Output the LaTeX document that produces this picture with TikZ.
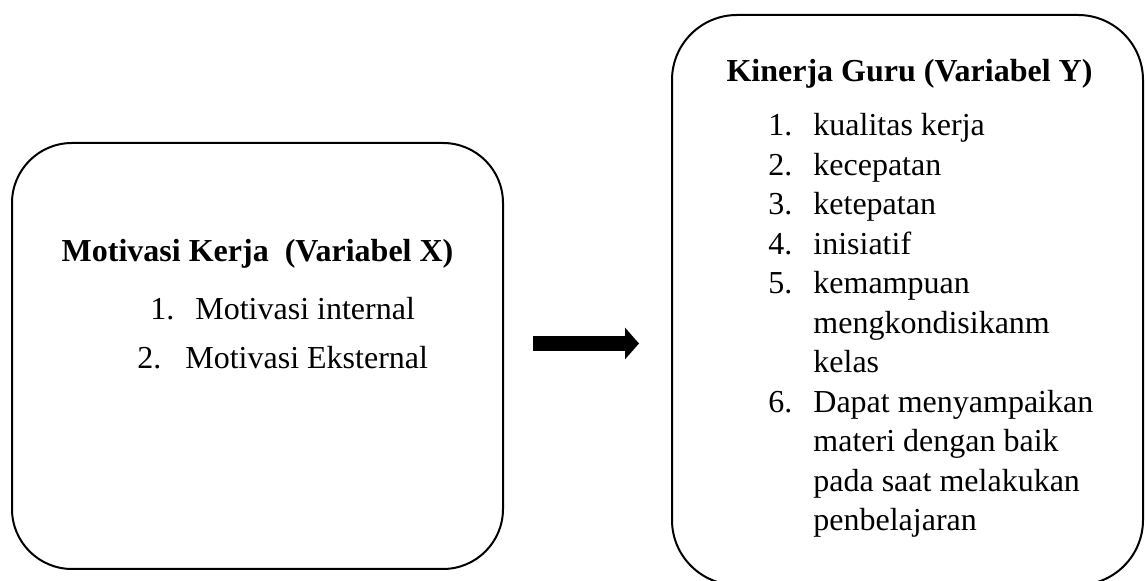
\documentclass[tikz,border=0pt]{standalone}
\usepackage{fontspec}
\setmainfont{Liberation Serif}
\usetikzlibrary{arrows.meta}
\begin{document}
\begin{tikzpicture}
  [x=0.5pt,y=-0.5pt,
   every node/.style={font=\fontsize{16}{19.75}\selectfont, inner sep=0pt},
   kotak/.style={draw=black, line width=1pt, outer sep=0pt},
   judul/.style={font=\fontsize{16}{19.75}\selectfont\bfseries, anchor=base},
   butir/.style={anchor=base west},
   panah/.style={line width=7.5pt, -{Triangle[length=7pt,width=15.5pt]}}]

  \useasboundingbox (0,0) rectangle (1146,581);
  \clip (0,0) rectangle (1146,581);

  % Kotak variabel X (kiri)
  \node[kotak, rounded corners=30pt, minimum width=245.5pt, minimum height=213pt] (kiri) at (257.5,356) {};
  \node[judul] (judulX) at (257.5,262) {Motivasi Kerja\ \ (Variabel X)};
  \node[butir] (x1) at (150,320) {1.\hspace{10.5pt}Motivasi internal};
  \node[butir] (x2) at (137,369) {2.\hspace{12pt}Motivasi Eksternal};

  % Kotak variabel Y (kanan)
  \node[kotak, rounded corners=32.5pt, minimum width=235.5pt, minimum height=285pt] (kanan) at (907.5,300) {};
  \node[judul] (judulY) at (909.5,82) {Kinerja Guru (Variabel Y)};
  \node[butir] (daftarY) at (768,136)
    {\begin{tabular}[t]{@{}l@{\hspace{10.5pt}}l@{}}
       1. & kualitas kerja\\
       2. & kecepatan\\
       3. & ketepatan\\
       4. & inisiatif\\
       5. & kemampuan\\
          & mengkondisikanm\\
          & kelas\\
       6. & Dapat menyampaikan\\
          & materi dengan baik\\
          & pada saat melakukan\\
          & penbelajaran
     \end{tabular}};

  % Panah X ke Y
  \coordinate (p1) at (533,343.5);
  \coordinate (p2) at (639,343.5);
  \draw[panah] (p1) -- (p2);

\end{tikzpicture}
\end{document}
